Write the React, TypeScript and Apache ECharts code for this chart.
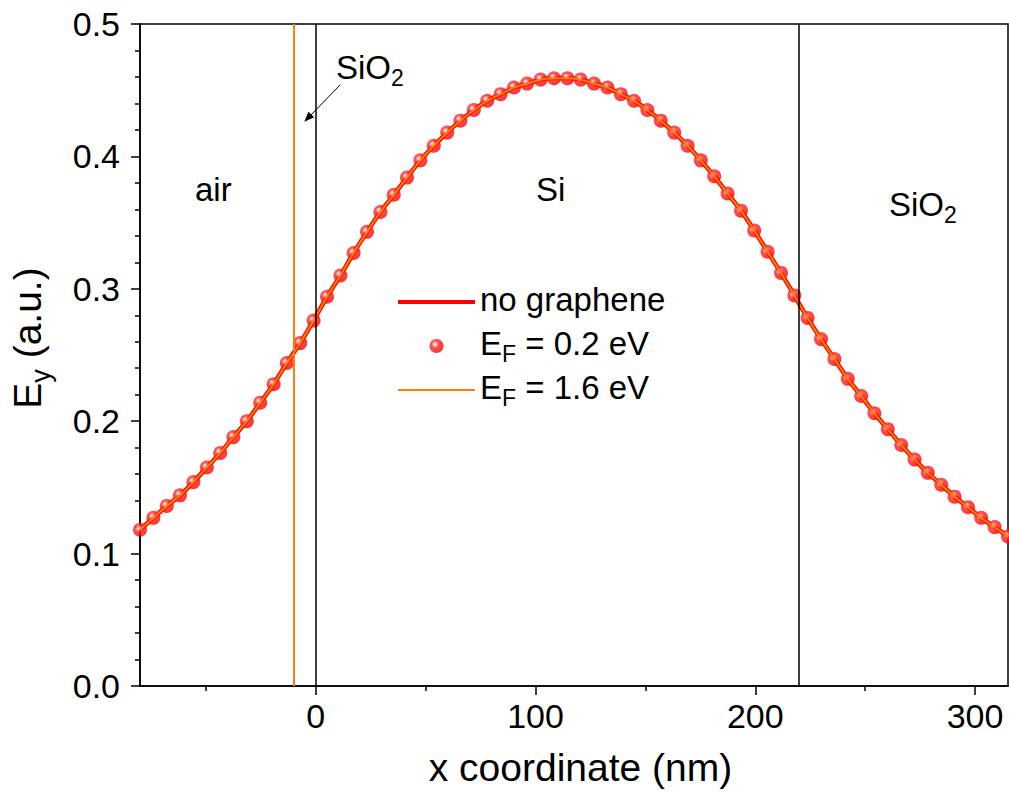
import React, { useEffect, useRef } from "react";
import * as echarts from "echarts";

// x positions (nm) of the sampled points
const xCoordinates = [
  -80, -73.9, -67.8, -61.8, -55.7, -49.6, -43.5, -37.5, -31.4, -25.3, -19.2, -13.2, -7.1, -1.0,
  5.1, 11.2, 17.2, 23.3, 29.4, 35.5, 41.5, 47.6, 53.7, 59.8, 65.8, 71.9, 78.0, 84.1, 90.2, 96.2,
  102.3, 108.4, 114.5, 120.5, 126.6, 132.7, 138.8, 144.8, 150.9, 157.0, 163.1, 169.2, 175.2,
  181.3, 187.4, 193.5, 199.5, 205.6, 211.7, 217.8, 223.8, 229.9, 236.0, 242.1, 248.2, 254.2,
  260.3, 266.4, 272.5, 278.5, 284.6, 290.7, 296.8, 302.8, 308.9, 315,
];

// E_y without graphene
const noGrapheneEy = [
  0.118, 0.127, 0.136, 0.144, 0.154, 0.165, 0.176, 0.188, 0.2, 0.214,
  0.228, 0.244, 0.259, 0.276, 0.294, 0.31, 0.327, 0.343, 0.358, 0.371,
  0.384, 0.397, 0.408, 0.418, 0.427, 0.435, 0.442, 0.447, 0.452, 0.455,
  0.458, 0.459, 0.459, 0.458, 0.455, 0.452, 0.447, 0.442, 0.435, 0.427,
  0.418, 0.408, 0.397, 0.385, 0.372, 0.359, 0.344, 0.328, 0.312, 0.295,
  0.278, 0.262, 0.247, 0.232, 0.219, 0.206, 0.194, 0.182, 0.171, 0.161,
  0.152, 0.143, 0.135, 0.127, 0.12, 0.113,
];

// E_F = 0.2 eV (indistinguishable from no graphene in the figure)
const ef02Ey = [
  0.118, 0.127, 0.136, 0.144, 0.154, 0.165, 0.176, 0.188, 0.2, 0.214,
  0.228, 0.244, 0.259, 0.276, 0.294, 0.31, 0.327, 0.343, 0.358, 0.371,
  0.384, 0.397, 0.408, 0.418, 0.427, 0.435, 0.442, 0.447, 0.452, 0.455,
  0.458, 0.459, 0.459, 0.458, 0.455, 0.452, 0.447, 0.442, 0.435, 0.427,
  0.418, 0.408, 0.397, 0.385, 0.372, 0.359, 0.344, 0.328, 0.312, 0.295,
  0.278, 0.262, 0.247, 0.232, 0.219, 0.206, 0.194, 0.182, 0.171, 0.161,
  0.152, 0.143, 0.135, 0.127, 0.12, 0.113,
];

// E_F = 1.6 eV
const ef16Ey = [
  0.118, 0.127, 0.136, 0.144, 0.154, 0.165, 0.176, 0.188, 0.2, 0.214,
  0.228, 0.244, 0.259, 0.276, 0.294, 0.31, 0.327, 0.343, 0.358, 0.371,
  0.384, 0.397, 0.408, 0.418, 0.427, 0.435, 0.442, 0.447, 0.452, 0.455,
  0.458, 0.459, 0.459, 0.458, 0.455, 0.452, 0.447, 0.442, 0.435, 0.427,
  0.418, 0.408, 0.397, 0.385, 0.372, 0.359, 0.344, 0.328, 0.312, 0.295,
  0.278, 0.262, 0.247, 0.232, 0.219, 0.206, 0.194, 0.182, 0.171, 0.161,
  0.152, 0.143, 0.135, 0.127, 0.12, 0.113,
];

const xTickValues = [0, 100, 200, 300];
const xMinorTickValues = [-50, 50, 150, 250];
const layerBoundaries = [0, 220];
const graphenePosition = [-10];
const seriesNames = ["no graphene", "EF = 0.2 eV", "EF = 1.6 eV"];
const legendLabels: Record<string, string> = {
  "no graphene": "{n|no graphene}",
  "EF = 0.2 eV": "{n|E}{sub|F}{n| = 0.2 eV}",
  "EF = 1.6 eV": "{n|E}{sub|F}{n| = 1.6 eV}",
};

const FONT = "'Liberation Sans', Arial, Helvetica, sans-serif";

export default function App() {
  const ref = useRef<HTMLDivElement>(null);

  useEffect(() => {
    document.body.style.margin = "0";
    const chart = echarts.init(ref.current!, null, { renderer: "svg" });
    const pts = (ys: number[]) => xCoordinates.map((x, i) => [x, ys[i]]);
    const black = "#000";
    const tickLine = { color: black, width: 1.5 };
    const red = "#ff0000";
    const orange = "#ff8000";
    const subRich = {
      n: { fontSize: 33, fill: black, color: black, fontFamily: FONT, lineHeight: 38, verticalAlign: "top" },
      s: { fontSize: 23, fill: black, color: black, fontFamily: FONT, lineHeight: 38, verticalAlign: "bottom" },
    };

    chart.setOption({
      animation: false,
      backgroundColor: "#fff",
      textStyle: { fontFamily: FONT },
      grid: {
        left: 139,
        right: 1,
        top: 24,
        bottom: 105,
        show: true,
        borderColor: black,
        borderWidth: 1.5,
        backgroundColor: "transparent",
      },
      legend: {
        orient: "vertical",
        left: 391,
        top: 278,
        itemWidth: 77,
        itemHeight: 14,
        itemGap: 6,
        data: [
          { name: seriesNames[0], itemStyle: { opacity: 0 }, lineStyle: { width: 4, color: red } },
          { name: seriesNames[1] },
          { name: seriesNames[2], itemStyle: { opacity: 0 }, lineStyle: { width: 2, color: orange } },
        ],
        formatter: (name: string) => legendLabels[name],
        textStyle: {
          fontFamily: FONT,
          fontSize: 33,
          color: black,
          lineHeight: 38,
          rich: {
            n: { fontSize: 33, color: black, fontFamily: FONT, lineHeight: 38, verticalAlign: "top" },
            sub: { fontSize: 23, color: black, fontFamily: FONT, lineHeight: 38, verticalAlign: "bottom" },
          },
        },
      },
      xAxis: [
        {
          type: "value",
          min: -80,
          max: 315,
          axisLine: { show: true, onZero: false, lineStyle: tickLine },
          axisTick: { show: true, customValues: xTickValues, length: 9, lineStyle: tickLine },
          axisLabel: { customValues: xTickValues, fontSize: 34, color: black, margin: 13, fontFamily: FONT },
          splitLine: { show: false },
          name: "x coordinate (nm)",
          nameLocation: "middle",
          nameGap: 62,
          nameTextStyle: { fontSize: 39, color: black, fontFamily: FONT, padding: [0, 0, 0, 13] },
        },
        {
          type: "value",
          min: -80,
          max: 315,
          position: "bottom",
          axisLine: { show: false, onZero: false },
          axisTick: { show: true, customValues: xMinorTickValues, length: 5, lineStyle: tickLine },
          axisLabel: { show: false },
          splitLine: { show: false },
        },
      ],
      yAxis: {
        type: "value",
        min: 0,
        max: 0.5,
        interval: 0.1,
        axisLine: { show: true, onZero: false, lineStyle: tickLine },
        axisTick: { show: true, length: 9, lineStyle: tickLine },
        minorTick: { show: true, splitNumber: 5, length: 5, lineStyle: tickLine },
        axisLabel: {
          fontSize: 34,
          color: black,
          margin: 20,
          fontFamily: FONT,
          formatter: (v: number) => v.toFixed(1),
        },
        splitLine: { show: false },
        minorSplitLine: { show: false },
        name: "{n|E}{s|y}{n| (a.u.)}",
        nameLocation: "middle",
        nameGap: 86,
        nameTextStyle: {
          padding: [0, 0, 0, 34],
          rich: {
            n: { fontSize: 39, color: black, fontFamily: FONT, lineHeight: 46, verticalAlign: "top" },
            s: { fontSize: 27, color: black, fontFamily: FONT, lineHeight: 46, verticalAlign: "bottom" },
          },
        },
      },
      series: [
        {
          name: seriesNames[0],
          type: "line",
          data: pts(noGrapheneEy),
          smooth: 0.3,
          symbol: "none",
          showSymbol: false,
          lineStyle: { color: red, width: 4.5 },
          itemStyle: { color: red },
          z: 2,
          markLine: {
            silent: true,
            symbol: "none",
            label: { show: false },
            lineStyle: { color: black, width: 1.5, type: "solid" },
            data: layerBoundaries.map((v) => ({ xAxis: v })),
          },
        },
        {
          name: seriesNames[1],
          type: "scatter",
          data: pts(ef02Ey),
          symbol: "circle",
          symbolSize: 14,
          itemStyle: {
            color: {
              type: "radial",
              x: 0.4,
              y: 0.38,
              r: 0.6,
              colorStops: [
                { offset: 0, color: "#ffffff" },
                { offset: 0.15, color: "#ffc8c8" },
                { offset: 0.4, color: "#ff2a2a" },
                { offset: 1, color: "#ff0000" },
              ],
            },
          },
          z: 3,
        },
        {
          name: seriesNames[2],
          type: "line",
          data: pts(ef16Ey),
          smooth: 0.3,
          symbol: "none",
          showSymbol: false,
          lineStyle: { color: orange, width: 2 },
          itemStyle: { color: orange },
          z: 4,
          markLine: {
            silent: true,
            symbol: "none",
            label: { show: false },
            lineStyle: { color: orange, width: 2, type: "solid" },
            data: graphenePosition.map((v) => ({ xAxis: v })),
          },
        },
      ],
      graphic: [
        {
          type: "text",
          left: 195,
          top: 173,
          style: { text: "air", fontSize: 33, fill: black, fontFamily: FONT },
        },
        {
          type: "text",
          left: 536,
          top: 173,
          style: { text: "Si", fontSize: 33, fill: black, fontFamily: FONT },
        },
        {
          type: "text",
          left: 889,
          top: 188,
          style: { text: "{n|SiO}{s|2}", rich: subRich },
        },
        {
          type: "text",
          left: 336,
          top: 51,
          style: { text: "{n|SiO}{s|2}", rich: subRich },
        },
        {
          type: "line",
          shape: { x1: 340, y1: 85, x2: 309, y2: 117 },
          style: { stroke: black, lineWidth: 1 },
        },
        {
          type: "polygon",
          shape: { points: [[304.3, 121.7], [314.2, 117.3], [308.4, 111.7]] },
          style: { fill: black },
        },
      ],
    });

    return () => chart.dispose();
  }, []);

  return (
    <div
      ref={ref}
      style={{ position: "absolute", left: 0, top: 0, width: 1009, height: 792 }}
    />
  );
}
